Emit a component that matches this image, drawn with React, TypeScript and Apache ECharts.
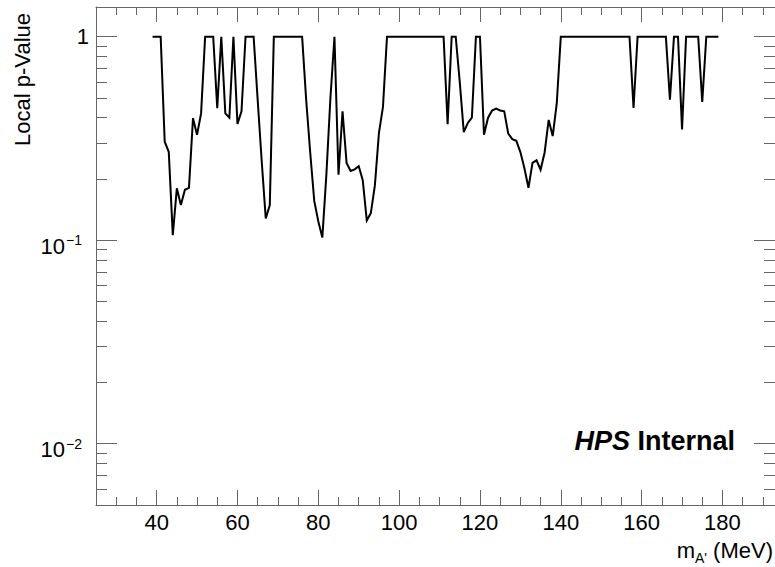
import React, { useEffect, useRef } from "react";
import * as echarts from "echarts";

// ---- data ----
const masses = [
  39, 40, 41, 42, 43, 44, 45, 46, 47, 48, 49, 50, 51, 52, 53, 54, 55, 56, 57, 58,
  59, 60, 61, 62, 63, 64, 65, 66, 67, 68, 69, 70, 71, 72, 73, 74, 75, 76, 77, 78,
  79, 80, 81, 82, 83, 84, 85, 86, 87, 88, 89, 90, 91, 92, 93, 94, 95, 96, 97, 98,
  99, 100, 101, 102, 103, 104, 105, 106, 107, 108, 109, 110, 111, 112, 113, 114, 115, 116, 117, 118,
  119, 120, 121, 122, 123, 124, 125, 126, 127, 128, 129, 130, 131, 132, 133, 134, 135, 136, 137, 138,
  139, 140, 141, 142, 143, 144, 145, 146, 147, 148, 149, 150, 151, 152, 153, 154, 155, 156, 157, 158,
  159, 160, 161, 162, 163, 164, 165, 166, 167, 168, 169, 170, 171, 172, 173, 174, 175, 176, 177, 178,
  179,
];

const pValues = [
  1, 1, 1, 0.305, 0.272, 0.106, 0.18, 0.149, 0.177, 0.181, 0.398, 0.33, 0.42, 1, 1, 1, 0.446, 1, 0.42, 0.4,
  1, 0.373, 0.43, 1, 1, 1, 0.49, 0.245, 0.128, 0.149, 1, 1, 1, 1, 1, 1, 1, 1, 0.49, 0.27,
  0.156, 0.124, 0.103, 0.21, 0.5, 1, 0.21, 0.43, 0.24, 0.219, 0.223, 0.231, 0.197, 0.125, 0.136, 0.186, 0.336, 0.452, 1, 1,
  1, 1, 1, 1, 1, 1, 1, 1, 1, 1, 1, 1, 1, 0.372, 1, 1, 0.6, 0.34, 0.377, 0.4,
  1, 1, 0.33, 0.4, 0.434, 0.444, 0.434, 0.43, 0.334, 0.314, 0.308, 0.271, 0.226, 0.181, 0.24, 0.247, 0.222, 0.27, 0.39, 0.325,
  0.47, 1, 1, 1, 1, 1, 1, 1, 1, 1, 1, 1, 1, 1, 1, 1, 1, 1, 1, 0.447,
  1, 1, 1, 1, 1, 1, 1, 1, 0.49, 1, 1, 0.35, 1, 1, 1, 1, 0.478, 1, 1, 1,
  1,
];

const xMajorTicks = [40, 60, 80, 100, 120, 140, 160, 180];
const xMinorTicks = [30, 35, 45, 50, 55, 65, 70, 75, 85, 90, 95, 105, 110, 115, 125, 130, 135, 145, 150, 155, 165, 170, 175, 185, 190];
const yMajorTicks = [0.01, 0.1, 1];
const yMinorTicks = [
  0.006, 0.007, 0.008, 0.009,
  0.02, 0.03, 0.04, 0.05, 0.06, 0.07, 0.08, 0.09,
  0.2, 0.3, 0.4, 0.5, 0.6, 0.7, 0.8, 0.9,
];

const X_MIN = 25;
const X_MAX = 193;
const Y_MIN = 0.005;
const Y_MAX = 1.4;

const FONT = "'Liberation Sans', Arial, Helvetica, sans-serif";
const FRAME = "#666";

const lg = (v: number) => Math.log10(v);

export default function App() {
  const ref = useRef<HTMLDivElement>(null);

  useEffect(() => {
    if (!ref.current) return;
    const chart = echarts.init(ref.current, null, { renderer: "svg" });

    const lineStyle = { color: FRAME, width: 1 };
    const xBase = {
      type: "value" as const,
      min: X_MIN,
      max: X_MAX,
      gridIndex: 0,
      splitLine: { show: false },
    };
    const yBase = {
      type: "value" as const,
      min: lg(Y_MIN),
      max: lg(Y_MAX),
      gridIndex: 0,
      splitLine: { show: false },
    };

    const yMajor = yMajorTicks.map(lg);
    const yMinor = yMinorTicks.map(lg);

    const option: any = {
      animation: false,
      backgroundColor: "#fff",
      grid: { left: 96, top: 7, width: 680, height: 498, containLabel: false },
      xAxis: [
        {
          ...xBase,
          position: "bottom",
          axisLine: { show: true, onZero: false, lineStyle },
          axisTick: { show: true, inside: true, length: 15, customValues: xMajorTicks, lineStyle },
          axisLabel: {
            show: true,
            customValues: xMajorTicks,
            fontSize: 22,
            lineHeight: 22,
            fontFamily: FONT,
            color: "#000",
            margin: 6,
          },
        },
        {
          ...xBase,
          position: "bottom",
          axisLine: { show: false, onZero: false },
          axisTick: { show: true, inside: true, length: 8, customValues: xMinorTicks, lineStyle },
          axisLabel: { show: false },
        },
        {
          ...xBase,
          position: "top",
          axisLine: { show: true, onZero: false, lineStyle },
          axisTick: { show: true, inside: true, length: 15, customValues: xMajorTicks, lineStyle },
          axisLabel: { show: false },
        },
        {
          ...xBase,
          position: "top",
          axisLine: { show: false, onZero: false },
          axisTick: { show: true, inside: true, length: 8, customValues: xMinorTicks, lineStyle },
          axisLabel: { show: false },
        },
      ],
      yAxis: [
        {
          ...yBase,
          position: "left",
          axisLine: { show: true, onZero: false, lineStyle },
          axisTick: { show: true, inside: true, length: 21, customValues: yMajor, lineStyle },
          axisLabel: {
            show: true,
            customValues: yMajor,
            margin: 7,
            color: "#000",
            fontFamily: FONT,
            formatter: (v: number) => {
              const e = Math.round(v);
              if (e === 0) return "{one|1}";
              return "{ten|10}{sup|\u2212" + -e + "}";
            },
            rich: {
              one: { fontSize: 22, lineHeight: 22, fontFamily: FONT, color: "#000", padding: [0, 0, 7, 0], verticalAlign: "top" },
              ten: { fontSize: 22, lineHeight: 22, fontFamily: FONT, color: "#000", padding: [6, 0, 4, 0], verticalAlign: "top" },
              sup: { fontSize: 14, lineHeight: 14, fontFamily: FONT, color: "#000", padding: [4, 7, 0, 1], verticalAlign: "top" },
            },
          },
        },
        {
          ...yBase,
          position: "left",
          axisLine: { show: false, onZero: false },
          axisTick: { show: true, inside: true, length: 11, customValues: yMinor, lineStyle },
          axisLabel: { show: false },
        },
        {
          ...yBase,
          position: "right",
          axisLine: { show: true, onZero: false, lineStyle },
          axisTick: { show: true, inside: true, length: 21, customValues: yMajor, lineStyle },
          axisLabel: { show: false },
        },
        {
          ...yBase,
          position: "right",
          axisLine: { show: false, onZero: false },
          axisTick: { show: true, inside: true, length: 11, customValues: yMinor, lineStyle },
          axisLabel: { show: false },
        },
      ],
      series: [
        {
          type: "line",
          xAxisIndex: 0,
          yAxisIndex: 0,
          data: masses.map((m, i) => [m, lg(pValues[i])]),
          showSymbol: false,
          symbol: "none",
          lineStyle: { color: "#000", width: 2, join: "miter" },
          silent: true,
          z: 5,
        },
      ],
      graphic: [
        {
          type: "text",
          x: 22,
          y: 13,
          rotation: Math.PI / 2,
          style: {
            text: "Local p-Value",
            fontSize: 22,
            fontFamily: FONT,
            fill: "#000",
            align: "right",
            verticalAlign: "middle",
          },
        },
        {
          type: "text",
          x: 773,
          y: 539,
          style: {
            text: "{n|m}{sub|A'}{n| (MeV)}",
            align: "right",
            verticalAlign: "top",
            fontFamily: FONT,
            fill: "#000",
            rich: {
              n: { fontSize: 22, lineHeight: 22, fontFamily: FONT, fill: "#000", verticalAlign: "top" },
              sub: { fontSize: 14, lineHeight: 14, fontFamily: FONT, fill: "#000", padding: [12, 0, 0, 0], verticalAlign: "top" },
            },
          },
        },
        {
          type: "text",
          x: 735,
          y: 441,
          style: {
            text: "{h|HPS}{i| Internal}",
            align: "right",
            verticalAlign: "middle",
            fontFamily: FONT,
            fill: "#000",
            rich: {
              h: { fontSize: 27, lineHeight: 27, fontFamily: FONT, fontWeight: "bold", fontStyle: "italic", fill: "#000" },
              i: { fontSize: 27, lineHeight: 27, fontFamily: FONT, fontWeight: "bold", fill: "#000" },
            },
          },
        },
      ],
    };

    chart.setOption(option);
    return () => chart.dispose();
  }, []);

  return (
    <div
      ref={ref}
      style={{ position: "absolute", left: 0, top: 0, width: 775, height: 567 }}
    />
  );
}
